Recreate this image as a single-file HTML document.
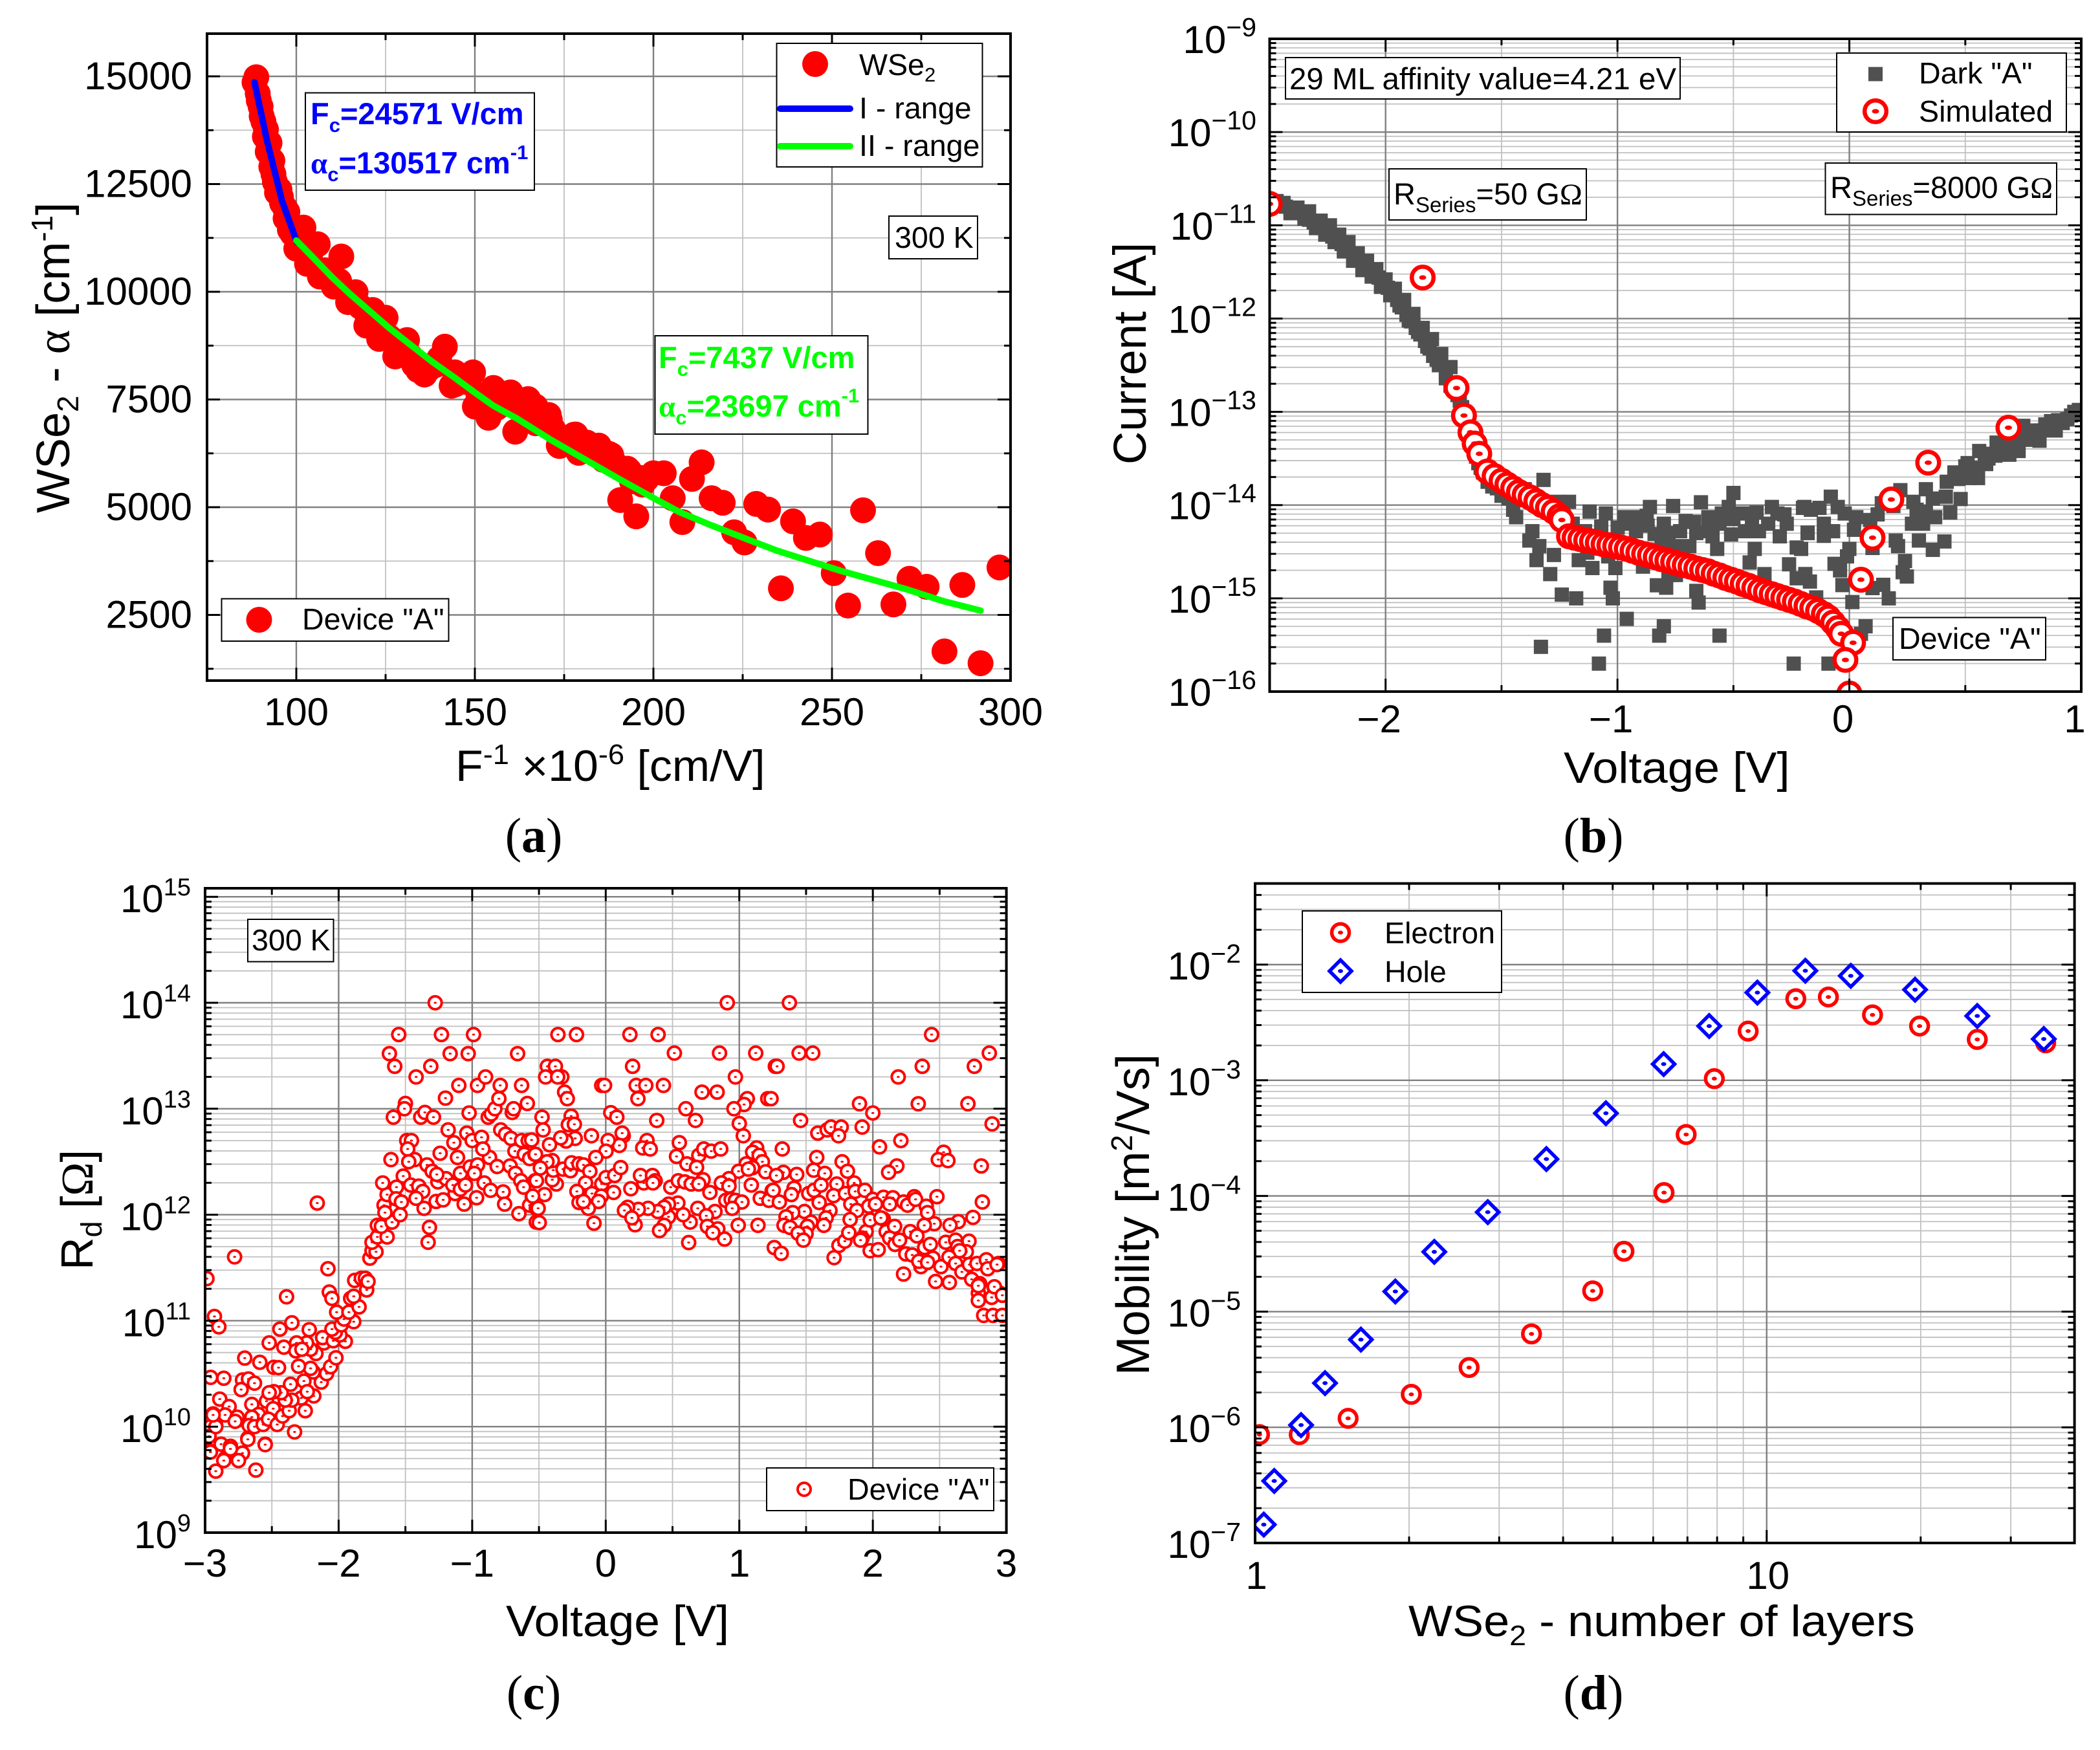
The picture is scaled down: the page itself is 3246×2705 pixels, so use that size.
<!DOCTYPE html>
<html lang="en">
<head>
<meta charset="utf-8">
<title>WSe2 device characterisation</title>
<style>
html,body{margin:0;padding:0;background:#fff;}
svg{display:block;font-family:"Liberation Sans",sans-serif;fill:#000;}
.box{fill:#fff;stroke:#000;stroke-width:2;}
.leg{font-size:46.6px;}
.tt{font-size:68px;}
.ty{font-size:70px;}
.cap{font-family:"Liberation Serif",serif;font-size:76px;text-anchor:middle;}
.ser{font-family:"Liberation Serif",serif;}
</style>
</head>
<body>
<svg id="figure" xmlns="http://www.w3.org/2000/svg" width="3246" height="2705" viewBox="0 0 3246 2705">
<defs>
<clipPath id="clipA"><rect x="320" y="52" width="1242" height="1000"/></clipPath>
<clipPath id="clipB"><rect x="1962.5" y="60" width="1254.5" height="1009"/></clipPath>
<clipPath id="clipC"><rect x="317" y="1373" width="1238.6" height="996"/></clipPath>
<clipPath id="clipD"><rect x="1940" y="1365.6" width="1266.6" height="1019.4"/></clipPath>
</defs>
<rect x="0" y="0" width="3246" height="2705" fill="#fff"/>

<g id="panelA">
  <g id="aGrid"></g>
  <g id="aMarks" clip-path="url(#clipA)"></g>
  <g id="aAxes"></g>
  <text class="tt" transform="translate(704,1207) scale(1.028,1)">F<tspan dy="-26" font-size="44">-1</tspan><tspan dy="26"> ×10</tspan><tspan dy="-26" font-size="44">-6</tspan><tspan dy="26"> [cm/V]</tspan></text>
  <text class="ty" style="font-size:72px" transform="translate(107,793) rotate(-90)">WSe<tspan dy="14" font-size="46">2</tspan><tspan dy="-14"> - </tspan><tspan class="ser">α</tspan> [cm<tspan dy="-26" font-size="46">-1</tspan><tspan dy="26">]</tspan></text>
  <g>
    <rect class="box" x="1200.5" y="67" width="318" height="191"/>
    <circle cx="1260" cy="99" r="20" fill="#f00"/>
    <text class="leg" x="1328" y="116">WSe<tspan dy="10" font-size="31">2</tspan></text>
    <line x1="1206" y1="168" x2="1314" y2="168" stroke="#00f" stroke-width="10" stroke-linecap="round"/>
    <text class="leg" x="1328" y="183">I - range</text>
    <line x1="1206" y1="226" x2="1314" y2="226" stroke="#0f0" stroke-width="10" stroke-linecap="round"/>
    <text class="leg" x="1328" y="241">II - range</text>
  </g>
  <g>
    <rect class="box" x="472" y="143.5" width="354" height="150.5" stroke-width="3"/>
    <text font-size="47" font-weight="700" fill="#00f" x="480" y="192">F<tspan dy="12" font-size="31">c</tspan><tspan dy="-12">=24571 V/cm</tspan></text>
    <text font-size="47" font-weight="700" fill="#00f" x="480" y="268"><tspan class="ser">α</tspan><tspan dy="12" font-size="31">c</tspan><tspan dy="-12">=130517 cm</tspan><tspan dy="-22" font-size="31">-1</tspan></text>
  </g>
  <g>
    <rect class="box" x="1012.5" y="519" width="329" height="152"/>
    <text font-size="47" font-weight="700" fill="#0f0" x="1018" y="569">F<tspan dy="12" font-size="31">c</tspan><tspan dy="-12">=7437 V/cm</tspan></text>
    <text font-size="47" font-weight="700" fill="#0f0" x="1018" y="644"><tspan class="ser">α</tspan><tspan dy="12" font-size="31">c</tspan><tspan dy="-12">=23697 cm</tspan><tspan dy="-22" font-size="31">-1</tspan></text>
  </g>
  <g>
    <rect class="box" x="1374" y="334" width="137" height="66"/>
    <text class="leg" x="1383" y="383">300 K</text>
  </g>
  <g>
    <rect class="box" x="342.5" y="925.5" width="351" height="65.5"/>
    <circle cx="400.5" cy="958" r="20" fill="#f00"/>
    <text class="leg" x="467" y="973">Device "A"</text>
  </g>
  <text class="cap" x="825" y="1317">(<tspan font-weight="700">a</tspan>)</text>
</g>

<g id="panelB">
  <g id="bGrid"></g>
  <g id="bMarks" clip-path="url(#clipB)"></g>
  <g id="bAxes"></g>
  <text class="tt" transform="translate(2417,1210) scale(1.063,1)">Voltage [V]</text>
  <text class="ty" style="font-size:71px" transform="translate(1771,718) rotate(-90)">Current [A]</text>
  <g>
    <rect class="box" x="1987" y="89" width="610" height="64"/>
    <text font-size="47.5" x="1993" y="138">29 ML affinity value=4.21 eV</text>
  </g>
  <g>
    <rect class="box" x="2839" y="82" width="355" height="122"/>
    <rect x="2888" y="103.5" width="22" height="22" fill="#505050"/>
    <text class="leg" x="2966" y="129">Dark "A"</text>
    <circle cx="2899" cy="172" r="16.8" fill="#fff" stroke="#f00" stroke-width="6.5"/>
    <ellipse cx="2899" cy="172" rx="5.5" ry="3.5" fill="#f00"/>
    <text class="leg" x="2966" y="188">Simulated</text>
  </g>
  <g>
    <rect class="box" x="2147" y="261" width="305" height="79"/>
    <text font-size="47" x="2154" y="316">R<tspan dy="12" font-size="33">Series</tspan><tspan dy="-12">=50 G</tspan><tspan class="ser">Ω</tspan></text>
  </g>
  <g>
    <rect class="box" x="2821.5" y="252" width="357.5" height="79.5"/>
    <text font-size="47" x="2829" y="306">R<tspan dy="12" font-size="33">Series</tspan><tspan dy="-12">=8000 G</tspan><tspan class="ser">Ω</tspan></text>
  </g>
  <g>
    <rect class="box" x="2926" y="954.5" width="236" height="65.5"/>
    <text class="leg" x="2935" y="1003">Device "A"</text>
  </g>
  <text class="cap" x="2463" y="1317">(<tspan font-weight="700">b</tspan>)</text>
</g>

<g id="panelC">
  <g id="cGrid"></g>
  <g id="cMarks" clip-path="url(#clipC)"></g>
  <g id="cAxes"></g>
  <text class="tt" transform="translate(782,2529) scale(1.049,1)">Voltage [V]</text>
  <text class="ty" transform="translate(143,1963) rotate(-90)">R<tspan dy="14" font-size="45">d</tspan><tspan dy="-14"> [</tspan><tspan class="ser">Ω</tspan>]</text>
  <g>
    <rect class="box" x="383" y="1421" width="132.5" height="65.5"/>
    <text class="leg" x="389" y="1469">300 K</text>
  </g>
  <g>
    <rect class="box" x="1185" y="2269" width="351" height="66"/>
    <circle cx="1243" cy="2302" r="10" fill="#fff" stroke="#f00" stroke-width="4"/>
    <ellipse cx="1243" cy="2302" rx="2.3" ry="1.5" fill="#f00"/>
    <text class="leg" x="1310" y="2318">Device "A"</text>
  </g>
  <text class="cap" x="825" y="2642">(<tspan font-weight="700">c</tspan>)</text>
</g>

<g id="panelD">
  <g id="dGrid"></g>
  <g id="dMarks" clip-path="url(#clipD)"></g>
  <g id="dAxes"></g>
  <text class="tt" transform="translate(2177,2529) scale(1.06,1)">WSe<tspan dy="14" font-size="44">2</tspan><tspan dy="-14"> - number of layers</tspan></text>
  <text class="ty" style="font-size:72.5px" transform="translate(1776,2126) rotate(-90)">Mobility [m<tspan dy="-26" font-size="46">2</tspan><tspan dy="26">/Vs]</tspan></text>
  <g>
    <rect class="box" x="2013" y="1408" width="308" height="126"/>
    <circle cx="2072" cy="1441.5" r="13.5" fill="#fff" stroke="#f00" stroke-width="5.5"/>
    <ellipse cx="2072" cy="1441.5" rx="4" ry="3" fill="#f00"/>
    <text class="leg" x="2140" y="1458">Electron</text>
    <path d="M2072 1484 L2089 1501 L2072 1518 L2055 1501 Z" fill="#fff" stroke="#00f" stroke-width="5.5"/>
    <ellipse cx="2072" cy="1501" rx="4" ry="3" fill="#00f"/>
    <text class="leg" x="2140" y="1518">Hole</text>
  </g>
  <text class="cap" x="2463" y="2642">(<tspan font-weight="700">d</tspan>)</text>
</g>
</svg>

<script>
/* ---------- Panel (a) data: inverse field (x 10^-6 cm/V), alpha (cm^-1) ---------- */
const aPoints = [[88.8,14980],[88.3,14860],[89.5,14438],[90.3,14076],[91.5,13766],[92.5,13455],[93.3,13042],[93.6,12732],[95.3,12370],[96,12060],[97.5,11853],[98.2,11440],[101.5,11130],[103.9,10870],[106,11103],[112.6,10819],[106.6,10353],[110.5,10120],[114.5,9759],[116.6,9991],[119.6,9216],[123.2,8906],[121.4,9578],[125,9397],[128,8544],[131,8880],[134.1,8182],[141.6,8725],[135.9,8079],[144.4,8130],[149.5,8130],[143.5,7820],[151,7613],[155.2,7768],[160,7665],[164.9,7510],[157,7355],[161.3,6753],[153.8,7076],[150,7335],[144.5,7852],[173.5,6430],[127.7,8498],[167,7335],[159.5,7593],[167,6950],[155.7,7720],[170.7,7140],[178.2,6688],[184.7,6430],[187.6,6236],[193.2,5850],[196.9,5525],[164.6,7473],[171,7025],[173.7,6420],[177.8,6683],[179.1,6262],[181.4,6499],[185,6262],[188.2,6209],[190.7,5166],[192.7,5893],[195.2,4787],[196.3,5680],[200,5788],[202.9,5788],[205.4,5208],[208.1,4655],[210.8,5656],[213.5,6041],[216.3,5208],[219.4,5103],[222.6,4418],[225.5,4181],[228.8,5077],[232.1,4945],[235.7,3117],[239.1,4671],[242.7,4287],[246.6,4366],[250.5,3470],[254.5,2717],[258.7,4929],[262.9,3934],[267.2,2744],[271.7,3339],[276.5,3154],[281.5,1653],[286.5,3196],[291.6,1380],[296.9,3602],
[89.2,14600],[90,14300],[90.8,13950],[91.2,13600],[92,13250],[93,12900],[94,12550],[94.6,12300],[95.7,12200],[96.8,11950],[97,11700],[98.9,11350],[100,11000],[100.5,11450],[102,11490],[102.5,11200],[103,10650],[108,10500],[112,10250],[114,10000],[118,9650],[120,9400],[122,9300],[124,9050],[126,8950],[128,8850],[129,8600],[132,8500],[133,8300],[137,8200],[139,8300],[140,8450],[146,7950],[148,7900],[152,7400],[153,7250],[156,7300],[158,7500],[162,7400],[166,7150],[168,7000],[172,6800],[175,6600],[180,6400],[183,6300],[186,6100],[190,5950],[194,5600],[198,5650]];
const aRange1F = [88.3,91.8,96,100.15];
const aRange1Alpha = [14862,13507,12111,11155];
const aRange2F = [100,105,110,115,120.2,126,132.3,138,144.4,150,155.2,161.9,171,180.9,190.9,200.1,207.2,216.3,225.3,234.4,243.4,252.5,261.6,270.6,281.5,291.6];
const aRange2Alpha = [11190,10770,10340,9950,9578,9160,8750,8380,8001,7660,7355,7052,6578,6104,5630,5208,4892,4576,4287,3997,3760,3523,3312,3102,2812,2601];
const aXMajor = [100,150,200,250,300];
const aXMinor = [125,175,225,275];
const aXTickLabels = ['100','150','200','250','300'];
const aYMajor = [2500,5000,7500,10000,12500,15000];
const aYMinor = [1250,3750,6250,8750,11250,13750];
const aYTickLabels = ['2500','5000','7500','10000','12500','15000'];

/* ---------- Panel (b) data: voltage (V), log10 current (A) ---------- */
const bDark = [[-2.49,-10.76],[-2.47,-10.78],[-2.45,-10.79],[-2.43,-10.8],[-2.41,-10.82],[-2.39,-10.84],[-2.37,-10.86],[-2.35,-10.88],[-2.33,-10.94],[-2.31,-10.97],[-2.29,-11],[-2.27,-11.03],[-2.25,-11.07],[-2.23,-11.12],[-2.21,-11.16],[-2.19,-11.2],[-2.17,-11.26],[-2.14,-11.33],[-2.12,-11.38],[-2.09,-11.43],[-2.07,-11.48],[-2.05,-11.51],[-2.03,-11.56],[-2.01,-11.62],[-1.99,-11.67],[-1.97,-11.72],[-1.95,-11.8],[-1.93,-11.88],[-1.91,-11.96],[-1.89,-12.03],[-1.87,-12.1],[-1.85,-12.17],[-1.83,-12.24],[-1.81,-12.32],[-1.795,-12.4],[-1.77,-12.5],[-1.74,-12.64],[-1.72,-12.72],[-1.69,-12.82],[-1.66,-13],[-1.64,-13.2],[-1.62,-13.4],[-1.6,-13.55],[-1.58,-13.65],[-1.56,-13.75],[-1.54,-13.8],[-1.52,-13.82],[-1.5,-13.9],[-1.47,-13.93],[-1.45,-14.05],
[-2.47,-10.74],[-2.44,-10.76],[-2.41,-10.87],[-2.38,-10.81],[-2.35,-10.93],[-2.33,-10.85],[-2.3,-11.03],[-2.28,-10.95],[-2.26,-11.1],[-2.24,-11],[-2.22,-11.18],[-2.2,-11.1],[-2.18,-11.28],[-2.16,-11.18],[-2.14,-11.38],[-2.12,-11.3],[-2.1,-11.48],[-2.08,-11.38],[-2.06,-11.55],[-2.04,-11.47],[-2.02,-11.66],[-2,-11.58],[-1.98,-11.75],[-1.96,-11.68],[-1.94,-11.86],[-1.92,-11.8],[-1.9,-12.02],[-1.88,-11.95],[-1.86,-12.14],[-1.84,-12.1],[-1.82,-12.3],[-1.8,-12.22],[-1.78,-12.44],[-1.76,-12.38],[-1.74,-12.58],[-1.72,-12.52],[-1.7,-12.76],[-1.68,-12.88],[-1.67,-12.95],[-1.65,-13.1],[-1.63,-13.3],[-1.61,-13.48],[-1.59,-13.6],
[-1.319,-13.73],[-1.209,-13.965],[-1.12,-14.07],[-1.05,-14.09],[-0.86,-14.02],[-0.76,-14.01],[-0.64,-13.97],[-0.5,-13.87],[-0.52,-14.02],[-0.334,-14.02],[-0.2,-14.03],[-0.18,-14.295],[-0.31,-14.09],[-0.27,-14.2],[-0.3,-14.335],[-0.227,-14.455],[-0.26,-14.635],[-0.227,-14.785],[-0.19,-14.74],[-0.408,-14.47],[-0.43,-14.615],[-0.366,-14.74],[-0.57,-14.47],[-0.59,-14.335],[-0.51,-14.315],[-0.608,-14.28],[-0.73,-14.28],[-0.706,-14.17],[-0.608,-14.13],[-0.55,-14.09],[-0.46,-14.09],[-0.4,-14.08],[-0.45,-14.28],[-0.39,-14.28],[-0.69,-14.44],[-0.75,-14.44],[-0.81,-14.39],[-0.84,-14.31],[-0.87,-14.22],[-0.874,-14.115],[-0.916,-14.13],[-0.97,-14.13],[-0.92,-14.28],[-0.999,-14.24],[-1.07,-14.23],[-1.14,-14.28],[-1.193,-14.2],[-1.26,-13.965],[-1.437,-14.13],[-1.4,-13.83],[-1.367,-14.28],[-1.38,-14.38],[-1.337,-14.44],[-1.349,-14.59],[-1.274,-14.535],[-1.29,-14.74],[-1.167,-14.59],[-1.13,-14.51],[-1.108,-14.675],[-1.04,-14.55],[-1.009,-14.675],[-0.89,-14.66],[-0.78,-14.75],[-0.748,-14.75],[-0.83,-14.86],[-0.79,-14.886],[-0.66,-14.92],[-0.65,-15.045],[-1.03,-14.886],[-1.02,-15],[-1.24,-14.96],[-1.178,-15],[-0.96,-15.22],[-0.8,-15.3],[-0.82,-15.4],[-1.058,-15.4],[-0.56,-15.4],[-1.33,-15.52],[-1.08,-15.7],[-0.24,-15.7],[-0.09,-15.7],
[-0.95,-14.2],[-0.9,-14.2],[-0.8,-14.2],[-0.66,-14.3],[-0.56,-14.2],[-0.5,-14.15],[-0.35,-14.2],[-0.28,-14.1],[-0.42,-14.15],[-0.67,-14.18],[-0.78,-14.3],
[-0.194,-14.02],[-0.166,-14.05],[-0.129,-14.03],[-0.08,-13.91],[-0.05,-14.02],[-0.02,-14.09],[0.03,-14.13],[0.09,-14.16],[0.122,-14.1],[0.14,-13.98],[0.22,-13.84],[0.19,-14.01],[0.276,-13.965],[0.33,-13.83],[0.36,-13.93],[0.42,-13.75],[0.416,-13.91],[0.48,-13.935],[0.435,-14.08],[0.37,-14.13],[0.318,-14.2],[0.27,-14.2],[0.33,-14.07],[0.29,-14.05],[0.2,-14.38],[0.21,-14.44],[0.3,-14.38],[0.36,-14.48],[0.41,-14.39],[0.24,-14.6],[0.23,-14.72],[0.248,-14.766],[0.146,-14.855],[0.1,-14.89],[0.17,-15],[-0.03,-14.858],[0.013,-15.04],[0.07,-15.3],[0.05,-15.38],[0.1,-14.46],[0,-14.47],[-0.01,-14.55],[-0.064,-14.63],[-0.04,-14.7],[0.02,-14.265],[-0.11,-14.2],[-0.18,-14.3],[-0.11,-14.33],[-0.07,-14.28],[-0.208,-14.47],[-0.19,-14.74],[-0.17,-14.82],[-0.143,-14.99],
[0.52,-13.71],[0.555,-13.71],[0.5,-13.585],[0.453,-13.65],[0.584,-13.45],[0.69,-13.46],[0.63,-13.47],[0.635,-13.33],[0.73,-13.42],[0.82,-13.31],[0.788,-13.2],[0.845,-13.135],[0.89,-13.2],[0.9,-13.09],[0.956,-13.04],[0.984,-13.03],[0.75,-13.15],[0.676,-13.33],[0.59,-13.56],
[0.6,-13.5],[0.66,-13.4],[0.7,-13.38],[0.72,-13.3],[0.76,-13.25],[0.78,-13.3],[0.8,-13.22],[0.83,-13.2],[0.86,-13.18],[0.87,-13.1],[0.92,-13.12],[0.94,-13.08],[0.97,-13],[0.99,-12.98],[0.54,-13.6],[0.47,-13.72],[0.51,-13.55],[0.56,-13.42]];
const bSimulated = [[-2.5,-10.77],[-1.84,-11.56],[-1.694,-12.745],[-1.662,-13.04],[-1.634,-13.22],[-1.616,-13.34],[-1.596,-13.45],[-1.561,-13.64],[-1.53,-13.69],[-1.5,-13.74],[-1.475,-13.78],[-1.45,-13.82],[-1.425,-13.86],[-1.4,-13.89],[-1.375,-13.92],[-1.35,-13.96],[-1.325,-14],[-1.3,-14.03],[-1.275,-14.07],[-1.25,-14.12],[-1.24,-14.16],[-1.209,-14.335],[-1.185,-14.35],[-1.16,-14.365],[-1.135,-14.38],[-1.11,-14.39],[-1.085,-14.405],[-1.06,-14.42],[-1.035,-14.43],[-1.01,-14.44],[-0.985,-14.455],[-0.96,-14.47],[-0.935,-14.49],[-0.91,-14.51],[-0.885,-14.525],[-0.86,-14.54],[-0.835,-14.56],[-0.81,-14.58],[-0.785,-14.595],[-0.76,-14.61],[-0.735,-14.63],[-0.71,-14.645],[-0.685,-14.66],[-0.66,-14.68],[-0.635,-14.695],[-0.61,-14.71],[-0.585,-14.735],[-0.56,-14.755],[-0.535,-14.78],[-0.51,-14.8],[-0.485,-14.82],[-0.46,-14.845],[-0.435,-14.865],[-0.41,-14.89],[-0.385,-14.915],[-0.36,-14.935],[-0.335,-14.955],[-0.31,-14.975],[-0.285,-14.995],[-0.26,-15.015],[-0.235,-15.035],[-0.21,-15.06],[-0.185,-15.085],[-0.16,-15.105],[-0.135,-15.135],[-0.11,-15.17],[-0.09,-15.205],[-0.07,-15.26],[-0.05,-15.32],[-0.035,-15.38],[0.05,-14.8],[0.1,-14.35],[0.181,-13.94],[0.34,-13.545],[0.686,-13.17],[0.016,-15.476],[-0.017,-15.66],[0,-16.02]];
const bXMajor = [-2,-1,0,1];
const bXMinor = [-1.5,-0.5,0.5];
const bXTickLabels = ['\u22122','\u22121','0','1'];
const bYExponents = [-16,-15,-14,-13,-12,-11,-10,-9];
const bYTickLabels = ['\u221216','\u221215','\u221214','\u221213','\u221212','\u221211','\u221210','\u22129'];

/* ---------- Panel (c) data: voltage (V), log10 Rd (ohm) ---------- */
const cPoints = [[-2.986,11.397],[-2.779,11.602],[-2.93,11.04],[-2.897,10.942],[-2.958,10.465],[-2.86,10.457],[-2.703,10.647],[-2.59,10.607],[-2.485,10.56],[-2.45,10.557],[-2.72,10.44],[-2.675,10.45],[-2.63,10.41],[-2.73,10.35],[-2.52,10.79],[-2.41,10.75],[-2.44,10.92],[-2.35,10.98],[-2.39,11.225],[-2.22,10.915],[-2.08,11.49],[-2.07,11.27],[-2.05,11.21],[-2.16,12.11],[-2.89,10.26],[-2.82,10.19],[-2.94,10.12],[-2.85,10.11],[-2.76,10.09],[-2.775,10.05],[-2.92,10.01],[-2.96,10],[-2.97,9.91],[-2.966,9.77],[-2.88,9.835],[-2.81,9.815],[-2.72,9.75],[-2.85,9.7],[-2.65,10.21],[-2.54,10.24],[-2.6,10.115],[-2.65,10.09],[-2.67,10.01],[-2.63,10],[-2.68,9.89],[-2.55,9.835],[-2.565,10.02],[-2.49,10.17],[-2.525,10.07],[-2.46,10.02],[-2.42,10.1],[-2.37,10.15],[-2.33,9.95],[-2.25,10.15],[-2.186,10.29],[-2.28,10.27],[-2.35,10.25],[-2.4,10.25],[-2.43,10.32],[-2.485,10.33],[-2.52,10.32],[-2.36,10.4],[-2.26,10.43],[-2.235,10.33],[-2.13,10.42],[-2.09,10.5],[-2.06,10.565],[-2.02,10.65],[-2.19,10.516],[-2.21,10.55],[-2.3,10.57],[-2.17,10.69],[-2.21,10.73],[-2.24,10.79],[-2.315,10.79],[-2.32,10.715],[-2.275,10.73],[-2.11,10.79],[-2.12,10.84],[-2.04,10.81],[-1.95,10.805],[-1.99,10.865],[-2.025,10.89],[-2.05,10.92],[-1.98,10.96],[-1.887,10.99],[-1.96,11.015],[-2.015,11.08],[-1.923,11.08],[-1.847,11.13],[-1.91,11.21],[-1.887,11.23],[-1.79,11.29],[-1.88,11.38],[-1.83,11.4],[-1.8,11.4],[-1.78,11.37],[-1.766,11.59],[-1.75,11.66],[-1.72,11.65],[-1.75,11.74],[-1.71,11.79],[-1.637,11.79],[-1.71,11.9],[-1.68,11.89],[-1.6,11.93],[-1.54,12],[-1.66,12.09],[-1.653,12.02],[-1.637,12.19],[-1.67,12.3],[-1.567,12.26],[-1.57,12.15],[-1.53,12.12],[-1.516,12.365],[-1.46,12.28],[-1.4,12.27],[-1.37,12.22],[-1.42,12.155],[-1.36,12.06],[-1.32,11.88],[-1.33,11.74],[-1.27,12.125],[-1.217,12.14],[-1.257,12.31],[-1.196,12.34],[-1.338,12.47],[-1.3,12.41],[-1.265,12.38],[-1.128,12.2],[-1.145,12.28],[-1.088,12.39],[-1.088,12.24],[-1.05,12.28],[-1.06,12.1],[-0.967,12.16],[-0.91,12.3],[-0.862,12.23],[-0.768,12.215],[-0.757,12.1],[-0.65,12.01],[-1.015,12.45],[-0.96,12.47],[-0.983,12.39],[-0.87,12.54],[-0.813,12.455],[-0.716,12.46],[-0.676,12.39],[-0.636,12.32],[-0.615,12.26],[-0.53,12.32],[-0.55,12.17],[-0.57,12.09],[-0.52,12.06],[-0.52,11.93],[-1.24,12.58],[-1.11,12.54],[-1.137,12.68],[-1.18,12.8],[-1.04,12.77],[-1,12.7],[-0.93,12.73],[-0.92,12.62],[-0.786,12.8],[-0.75,12.76],[-0.71,12.72],[-0.68,12.6],[-0.63,12.7],[-0.58,12.7],[-0.61,12.57],[-0.57,12.53],[-0.53,12.57],[-1.023,12.96],[-0.88,12.92],[-0.857,12.95],[-0.83,13],[-0.8,13.095],[-0.7,12.965],[-0.69,13],[-0.587,13.05],[-1.2,13.1],[-1.1,13.22],[-0.96,13.22],[-0.9,13.3],[-0.79,13.22],[-0.63,13.22],[-0.66,13.52],[-1.03,13.52],[-1.165,13.52],[-1.31,13.4],[-1.42,13.3],[-1.58,13.4],[-1.62,13.52],[-1.55,13.7],[-1.23,13.7],[-0.99,13.7],[-1.277,14],[-1.5,13.05],[-1.507,13],[-1.59,12.92],[-1.385,12.92],[-1.354,12.965],[-1.29,12.92],[-1.49,12.7],[-1.455,12.7],[-1.483,12.62],[-1.43,12.52],[-1.475,12.5],[-1.608,12.52],
[-0.358,13.7],[-0.219,13.7],[0.181,13.7],[0.392,13.7],[0.514,13.525],[0.852,13.525],[1.123,13.525],[1.27,13.4],[0.201,13.4],[-0.437,13.4],[-0.377,13.4],[-0.45,13.3],[-0.329,13.3],[-0.36,13.3],[-0.308,13.157],[-0.288,13.095],[-0.03,13.22],[-0.009,13.22],[0.228,13.22],[0.3,13.22],[0.432,13.22],[0.241,13.095],[0.721,13.157],[0.834,13.157],[0.971,13.3],[1.06,13.095],[1.036,13.04],[0.96,13],[1.213,13.095],[0.6,13],[0.672,12.89],[0.382,12.89],[0.038,12.963],[0.083,12.92],[-0.477,12.92],[-0.469,12.8],[-0.259,12.93],[-0.28,12.85],[-0.235,12.853],[-0.107,12.745],[-0.229,12.72],[-0.297,12.695],[-0.337,12.725],[-0.421,12.66],[-0.555,12.705],[0.131,12.745],[0.123,12.77],[0.102,12.654],[0.018,12.7],[0.002,12.6],[-0.074,12.54],[0.309,12.7],[0.277,12.63],[0.333,12.62],[0.551,12.68],[0.53,12.55],[0.608,12.48],[0.697,12.56],[0.734,12.62],[0.79,12.6],[0.861,12.62],[0.68,12.447],[1,12.86],[1.03,12.745],[1.13,12.63],[1.1,12.59],[1.149,12.56],[1.173,12.5],[1.052,12.48],[0.995,12.41],[1.1,12.444],[1.068,12.43],[1.197,12.405],[0.923,12.34],[0.866,12.3],[1.09,12.28],[0.923,12.27],[1.246,12.226],[1.157,12.155],[1.222,12.135],[0.899,12.135],[0.939,12.145],[0.971,12.135],[1.02,12.12],[0.947,12.06],[0.818,12.03],[0.689,12.06],[0.753,11.99],[1.14,11.9],[0.992,11.9],[0.761,11.89],[0.839,11.866],[0.802,11.83],[0.89,11.77],[0.621,11.737],[0.632,11.93],[0.58,12],[0.47,11.98],[0.438,11.9],[0.403,11.85],[0.54,12.11],[0.47,12.1],[0.438,12.07],[0.39,12.03],[0.317,12.06],[0.244,12.05],[0.164,12.07],[0.14,12.04],[0.22,11.905],[0.196,11.97],[-0.088,11.92],[-0.498,11.925],[-0.506,12.06],[-0.458,12.19],[-0.547,12.175],[-0.519,12.32],[-0.37,12.29],[-0.4,12.33],[-0.393,12.42],[-0.4,12.51],[-0.44,12.5],[-0.49,12.44],[-0.526,12.57],[-0.32,12.43],[-0.264,12.415],[-0.256,12.49],[-0.2,12.48],[-0.167,12.47],[-0.119,12.41],[-0.151,12.3],[-0.216,12.22],[-0.103,12.2],[-0.03,12.29],[0.002,12.35],[0.067,12.37],[0.112,12.445],[0.059,12.21],[-0.033,12.175],[-0.054,12.125],[-0.13,12.06],[-0.2,12.115],[-0.167,12.125],[0.188,12.245],[0.285,12.3],[0.26,12.37],[0.35,12.37],[0.37,12.32],[0.354,12.3],[0.487,12.26],[0.543,12.32],[0.592,12.31],[0.64,12.29],[0.729,12.33],[0.697,12.29],[0.78,12.21],
[0.91,14],[1.375,14],[2.44,13.7],[2.872,13.525],[2.76,13.4],[2.37,13.4],[2.19,13.3],[1.448,13.525],[1.55,13.525],[1.283,13.4],[1.238,13.095],[1.9,13.047],[2,12.96],[2.34,13.047],[2.712,13.047],[2.893,12.857],[1.459,12.89],[1.588,12.77],[1.658,12.8],[1.687,12.827],[1.763,12.827],[1.743,12.745],[1.92,12.827],[2.21,12.7],[2.05,12.64],[1.322,12.62],[2.53,12.59],[2.49,12.52],[2.562,12.51],[2.812,12.46],[2.18,12.46],[2.118,12.4],[1.58,12.54],[1.77,12.5],[1.81,12.41],[1.557,12.42],[1.64,12.39],[1.43,12.38],[1.33,12.4],[1.278,12.37],[1.41,12.25],[1.254,12.23],[1.39,12.19],[1.3,12.12],[1.52,12.2],[1.56,12.23],[1.612,12.28],[1.73,12.29],[1.706,12.18],[1.598,12.115],[1.795,12.2],[1.86,12.3],[1.868,12.22],[1.94,12.23],[1.835,12.1],[1.88,12.04],[1.679,12.04],[1.65,11.97],[1.633,11.9],[1.488,12.03],[1.4,12.02],[1.35,11.98],[1.335,11.9],[1.38,11.88],[1.536,11.93],[1.51,11.89],[1.5,11.82],[1.44,11.825],[1.48,11.76],[1.262,11.69],[1.314,11.635],[1.71,11.595],[1.746,11.71],[1.79,11.75],[1.82,11.83],[1.83,11.955],[1.95,11.84],[1.92,11.78],[1.908,11.76],[1.98,11.95],[1.98,11.66],[2.04,11.67],[2.078,11.96],[2.06,11.97],[2.1,11.84],[2.163,11.89],[2.126,11.78],[2.166,11.72],[2.2,11.76],[2.28,11.84],[2.33,11.8],[2.247,11.63],[2.295,11.62],[2.23,11.44],[2.36,11.51],[2.344,11.56],[2.388,11.69],[2.43,11.72],[2.45,11.59],[2.41,11.55],[2.51,11.51],[2.47,11.37],[2.573,11.36],[2.546,11.74],[2.62,11.76],[2.635,11.7],[2.72,11.75],[2.7,11.65],[2.65,11.66],[2.57,11.6],[2.62,11.54],[2.667,11.46],[2.74,11.39],[2.723,11.53],[2.78,11.54],[2.85,11.575],[2.86,11.49],[2.94,11.54],[2.8,11.35],[2.79,11.26],[2.91,11.31],[2.95,11.26],[2.97,11.24],[2.89,11.22],[2,12.145],[2.08,12.165],[2.15,12.16],[2.126,12.1],[1.97,12.08],[2.02,12.1],[2.23,12.12],[2.26,12.09],[2.31,12.17],[2.32,12.145],[2.4,12.08],[2.41,12.02],[2.48,12.17],[2.82,12.12],[2.75,11.975],[2.64,11.935],[2.578,11.9],[2.46,11.915],[2.385,11.9],[2.83,11.05],[2.9,11.05],[2.97,11.05],[2.79,11.19],[2.79,11.33],[2.91,11.32],[2.93,11.53],[2.97,11.24],
[-2.92,9.58],[-2.86,9.68],[-2.72,9.75],[-2.75,9.68],[-2.62,9.59],[-2.96,9.76],[-2.81,9.79],[-2.55,9.83],[-2.68,9.88],[-2.92,10],[-2.94,10.11]];
const cXMajor = [-3,-2,-1,0,1,2,3];
const cXMinor = [-2.5,-1.5,-0.5,0.5,1.5,2.5];
const cXTickLabels = ['\u22123','\u22122','\u22121','0','1','2','3'];
const cYExponents = [9,10,11,12,13,14,15];
const cYTickLabels = ['9','10','11','12','13','14','15'];

/* ---------- Panel (d) data: number of layers, log10 mobility (m^2/Vs) ---------- */
const dElectronLayers = [1.02,1.22,1.52,2.02,2.62,3.47,4.57,5.26,6.3,6.96,7.9,9.2,11.4,13.2,16.1,19.9,25.8,35.1];
const dElectronMobility = [-6.063,-6.063,-5.923,-5.715,-5.483,-5.193,-4.821,-4.478,-3.971,-3.469,-2.986,-2.575,-2.295,-2.28,-2.435,-2.531,-2.647,-2.676];
const dHoleLayers = [1.04,1.09,1.23,1.37,1.61,1.88,2.24,2.85,3.71,4.85,6.29,7.72,9.59,11.9,14.6,19.5,25.8,34.8];
const dHoleMobility = [-6.841,-6.464,-5.981,-5.618,-5.242,-4.826,-4.483,-4.14,-3.681,-3.285,-2.86,-2.531,-2.242,-2.053,-2.097,-2.217,-2.444,-2.643];
const dXMajor = [1,10];
const dXMinor = [2,3,4,5,6,7,8,9,20,30,40];
const dXTickLabels = ['1','10'];
const dYExponents = [-7,-6,-5,-4,-3,-2];
const dYTickLabels = ['\u22127','\u22126','\u22125','\u22124','\u22123','\u22122'];

/* ---------- Axis functions ---------- */
const aX = v => 320 + (v - 75) * (1562 - 320) / 225;
const aY = v => 118 + (15000 - v) * 0.0666;
const bX = v => 1962.5 + (v + 2.5) * (3217 - 1962.5) / 3.5;
const bY = v => 60 + (-9 - v) * (1069 - 60) / 7;
const cX = v => 317 + (v + 3) * (1555.6 - 317) / 6;
const cY = v => 2369 - (v - 9) * 163.8;
const dX = v => 1940 + Math.log10(v) * 790.8;
const dY = v => 2385 - (v + 7) * 178.8;

const NS = 'http://www.w3.org/2000/svg';
function add(parent, tag, attrs) {
  const n = document.createElementNS(NS, tag);
  for (const k in attrs) n.setAttribute(k, attrs[k]);
  parent.appendChild(n);
  return n;
}
function logMinors(exps) {
  const out = [];
  for (const e of exps) for (let k = 2; k <= 9; k++) { const v = e + Math.log10(k); out.push(v); }
  return out;
}
function drawGrid(g, f, xs, ys, xMaj, xMin, yMaj, yMin) {
  const line = (x1, y1, x2, y2, major) => {
    const l = add(g, 'line', {x1, y1, x2, y2, stroke: major ? '#808080' : '#c0c0c0', 'stroke-width': major ? 2.4 : 1.8});
    
    
  };
  for (const v of yMin) { const y = ys(v); if (y > f.t && y < f.b) line(f.l, y, f.r, y, false); }
  for (const v of xMin) { const x = xs(v); if (x > f.l && x < f.r) line(x, f.t, x, f.b, false); }
  for (const v of yMaj) { const y = ys(v); if (y > f.t && y < f.b) line(f.l, y, f.r, y, true); }
  for (const v of xMaj) { const x = xs(v); if (x > f.l && x < f.r) line(x, f.t, x, f.b, true); }
}
function drawTicks(g, f, xs, ys, xMaj, xMin, yMaj, yMin) {
  const tick = (x1, y1, x2, y2, w) => {
    const l = add(g, 'line', {x1, y1, x2, y2, stroke: '#000', 'stroke-width': w});
    
    
  };
  const xt = (v, len, w) => { const x = xs(v); if (x < f.l - 1 || x > f.r + 1) return; tick(x, f.b, x, f.b - len, w); tick(x, f.t, x, f.t + len, w); };
  const yt = (v, len, w) => { const y = ys(v); if (y < f.t - 1 || y > f.b + 1) return; tick(f.l, y, f.l + len, y, w); tick(f.r, y, f.r - len, y, w); };
  xMin.forEach(v => xt(v, 10, 3)); xMaj.forEach(v => xt(v, 20, 3));
  yMin.forEach(v => yt(v, 10, 3)); yMaj.forEach(v => yt(v, 20, 3));
  const frame = add(g, 'rect', {x: f.l, y: f.t, width: f.r - f.l, height: f.b - f.t, fill: 'none', stroke: '#000', 'stroke-width': 4});
  
  
}
function xLabels(g, xs, vals, labels, baseline, dx) {
  vals.forEach((v, i) => {
    const t = add(g, 'text', {x: xs(v) + dx, y: baseline, 'font-size': 60, 'text-anchor': 'middle'});
    t.textContent = labels[i];
    
    
  });
}
function yLinLabels(g, ys, vals, labels, right, off) {
  vals.forEach((v, i) => {
    const t = add(g, 'text', {x: right, y: ys(v) + off, 'font-size': 60, 'text-anchor': 'end'});
    t.textContent = labels[i];
    
    
  });
}
function yPowLabels(g, ys, vals, labels, right, off, supSize) {
  vals.forEach((v, i) => {
    const t = add(g, 'text', {x: right, y: ys(v) + off, 'font-size': 60, 'text-anchor': 'end'});
    
    
    t.appendChild(document.createTextNode('10'));
    const s = add(t, 'tspan', {dy: -26, 'font-size': supSize});
    s.textContent = labels[i];
  });
}
function ring(g, x, y, r, sw, rx, ry, name) {
  const c = add(g, 'circle', {cx: x, cy: y, r, fill: '#fff', stroke: '#f00', 'stroke-width': sw});
  
  
  const d = add(g, 'ellipse', {cx: x, cy: y, rx, ry, fill: '#f00'});
  
  
}
function polyFrom(g, xsVals, ysVals, xs, ys, color, name) {
  const pts = xsVals.map((v, i) => xs(v).toFixed(1) + ',' + ys(ysVals[i]).toFixed(1)).join(' ');
  const p = add(g, 'polyline', {points: pts, fill: 'none', stroke: color, 'stroke-width': 10, 'stroke-linejoin': 'round', 'stroke-linecap': 'round'});
  
  
}
const $ = id => document.getElementById(id);

/* ---------- Panel (a) ---------- */
const fa = {l: 320, r: 1562, t: 52, b: 1052};
drawGrid($('aGrid'), fa, aX, aY, aXMajor, aXMinor, aYMajor, aYMinor);
aPoints.forEach(p => {
  const c = add($('aMarks'), 'circle', {cx: aX(p[0]), cy: aY(p[1]), r: 20, fill: '#f00'});
  
  
});
polyFrom($('aMarks'), aRange1F, aRange1Alpha, aX, aY, '#00f', 'range-1-fit-line');
polyFrom($('aMarks'), aRange2F, aRange2Alpha, aX, aY, '#0f0', 'range-2-fit-line');
drawTicks($('aAxes'), fa, aX, aY, aXMajor, aXMinor, aYMajor, aYMinor);
xLabels($('aAxes'), aX, aXMajor, aXTickLabels, 1121, 0);
yLinLabels($('aAxes'), aY, aYMajor, aYTickLabels, 297, 20);

/* ---------- Panel (b) ---------- */
const fb = {l: 1962.5, r: 3217, t: 60, b: 1069};
const bYMinor = logMinors(bYExponents);
drawGrid($('bGrid'), fb, bX, bY, bXMajor, bXMinor, bYExponents, bYMinor);
bDark.forEach(p => {
  const s = add($('bMarks'), 'rect', {x: bX(p[0]) - 11, y: bY(p[1]) - 11, width: 22, height: 22, fill: '#505050'});
  
  
});
bSimulated.forEach(p => ring($('bMarks'), bX(p[0]), bY(p[1]), 16.8, 6.5, 5.5, 3.5, 'simulated-point'));
drawTicks($('bAxes'), fb, bX, bY, bXMajor, bXMinor, bYExponents, bYMinor);
xLabels($('bAxes'), bX, bXMajor, bXTickLabels, 1132, -10);
yPowLabels($('bAxes'), bY, bYExponents, bYTickLabels, 1942, 22, 41);

/* ---------- Panel (c) ---------- */
const fc = {l: 317, r: 1555.6, t: 1373, b: 2369};
const cYMinor = logMinors(cYExponents);
drawGrid($('cGrid'), fc, cX, cY, cXMajor, cXMinor, cYExponents, cYMinor);
cPoints.forEach(p => ring($('cMarks'), cX(p[0]), cY(p[1]), 10, 4, 2.3, 1.5, 'rd-point'));
drawTicks($('cAxes'), fc, cX, cY, cXMajor, cXMinor, cYExponents, cYMinor);
xLabels($('cAxes'), cX, cXMajor, cXTickLabels, 2437, 0);
yPowLabels($('cAxes'), cY, cYExponents, cYTickLabels, 295, 24, 38);

/* ---------- Panel (d) ---------- */
const fd = {l: 1940, r: 3206.6, t: 1365.6, b: 2385};
const dYMinor = logMinors(dYExponents);
drawGrid($('dGrid'), fd, dX, dY, dXMajor, dXMinor, dYExponents, dYMinor);
dElectronLayers.forEach((v, i) => ring($('dMarks'), dX(v), dY(dElectronMobility[i]), 13.5, 5.5, 4, 3, 'electron-point'));
dHoleLayers.forEach((v, i) => {
  const x = dX(v), y = dY(dHoleMobility[i]);
  const p = add($('dMarks'), 'path', {d: 'M' + x + ' ' + (y - 17) + ' L' + (x + 17) + ' ' + y + ' L' + x + ' ' + (y + 17) + ' L' + (x - 17) + ' ' + y + ' Z', fill: '#fff', stroke: '#00f', 'stroke-width': 5.5});
  
  
  const e = add($('dMarks'), 'ellipse', {cx: x, cy: y, rx: 4, ry: 3, fill: '#00f'});
  
  
});
drawTicks($('dAxes'), fd, dX, dY, dXMajor, dXMinor, dYExponents, dYMinor);
xLabels($('dAxes'), dX, dXMajor, dXTickLabels, 2456, 2);
yPowLabels($('dAxes'), dY, dYExponents, dYTickLabels, 1918, 23, 41);
</script>
</body>
</html>
